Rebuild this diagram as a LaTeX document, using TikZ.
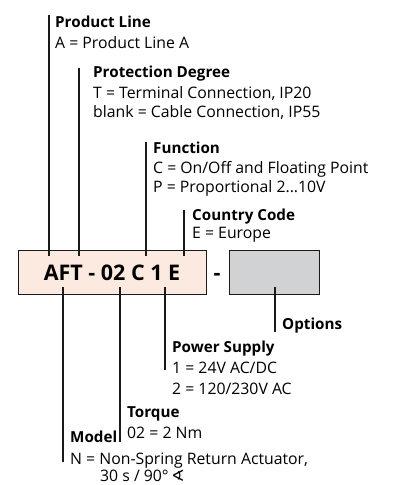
\documentclass[tikz,border=0pt]{standalone}
\usepackage{fontspec}
\setmainfont{Open Sans}
\newfontfamily\symfont{DejaVu Sans}
\definecolor{boxpink}{HTML}{FCE9E0}
\definecolor{boxgrey}{HTML}{D1D2D4}
\definecolor{linecol}{HTML}{1A1A1A}
\begin{document}
\begin{tikzpicture}[x=1pt,y=-1pt,
  ttl/.style={anchor=base west,inner sep=0pt,font=\fontsize{15.2}{18}\selectfont\bfseries},
  txt/.style={anchor=base west,inner sep=0pt,font=\fontsize{15.8}{18}\selectfont},
  lead/.style={draw=linecol,line width=1.1pt},
  codebox/.style={draw=linecol,line width=0.9pt,inner sep=0pt}]
\useasboundingbox (0,0) rectangle (392,485);
% boxes
\node[codebox,fill=boxpink,minimum width=188pt,minimum height=44pt] (box) at (112,272) {};
\node[anchor=base,inner sep=0pt,font=\fontsize{21.5}{24}\selectfont\bfseries] (code) at (112,280) {AFT - 02 C 1 E};
\node[inner sep=0pt,font=\fontsize{21.5}{24}\selectfont\bfseries,anchor=base] (dash) at (217,280) {-};
\node[codebox,fill=boxgrey,minimum width=90pt,minimum height=44pt] (opt) at (274,272) {};
% top labels
\node[ttl] (plT) at (55,27) {Product Line};
\node[txt] (plA) at (55,48) {A = Product Line A};
\node[ttl] (pdT) at (93,77) {Protection Degree};
\node[txt] (pdA) at (93,98) {T = Terminal Connection, IP20};
\node[txt] (pdB) at (93,117) {blank = Cable Connection, IP55};
\node[ttl] (fnT) at (153,153) {Function};
\node[txt] (fnA) at (153,173) {C = On/Off and Floating Point};
\node[txt] (fnB) at (153,192) {P = Proportional 2...10V};
\node[ttl] (ccT) at (192,220) {Country Code};
\node[txt] (ccA) at (192,238) {E = Europe};
% bottom labels
\node[ttl] (opT) at (282,329) {Options};
\node[ttl] (psT) at (172,352) {Power Supply};
\node[txt] (psA) at (172,373) {1 = 24V AC/DC};
\node[txt] (psB) at (172,394) {2 = 120/230V AC};
\node[ttl] (tqT) at (127,417) {Torque};
\node[txt] (tqA) at (127,438) {02 = 2 Nm};
\node[ttl] (mdT) at (70,442) {Model};
\node[txt] (mdA) at (70,464) {N = Non-Spring Return Actuator,};
\node[txt] (mdB) at (100,481) {30 s / 90°\,{\symfont ∢}};
% leader coordinates
\coordinate (plTop) at (49,15);
\coordinate (pdTop) at (79,68);
\coordinate (fnTop) at (146,142);
\coordinate (ccTop) at (184,210);
\coordinate (mdBot) at (63,462);
\coordinate (tqBot) at (120,442);
\coordinate (psBot) at (165,370);
\coordinate (opBot) at (275,332);
% leaders
\draw[lead] (plTop) -- ([yshift=-6pt]plTop |- box.north);
\draw[lead] (pdTop) -- ([yshift=-6pt]pdTop |- box.north);
\draw[lead] (fnTop) -- ([yshift=-6pt]fnTop |- box.north);
\draw[lead] (ccTop) -- ([yshift=-6pt]ccTop |- box.north);
\draw[lead] ([yshift=7pt]mdBot |- box.south) -- (mdBot);
\draw[lead] ([yshift=7pt]tqBot |- box.south) -- (tqBot);
\draw[lead] ([yshift=7pt]psBot |- box.south) -- (psBot);
\draw[lead] ([yshift=7pt]opBot |- opt.south) -- (opBot);
\end{tikzpicture}
\end{document}
